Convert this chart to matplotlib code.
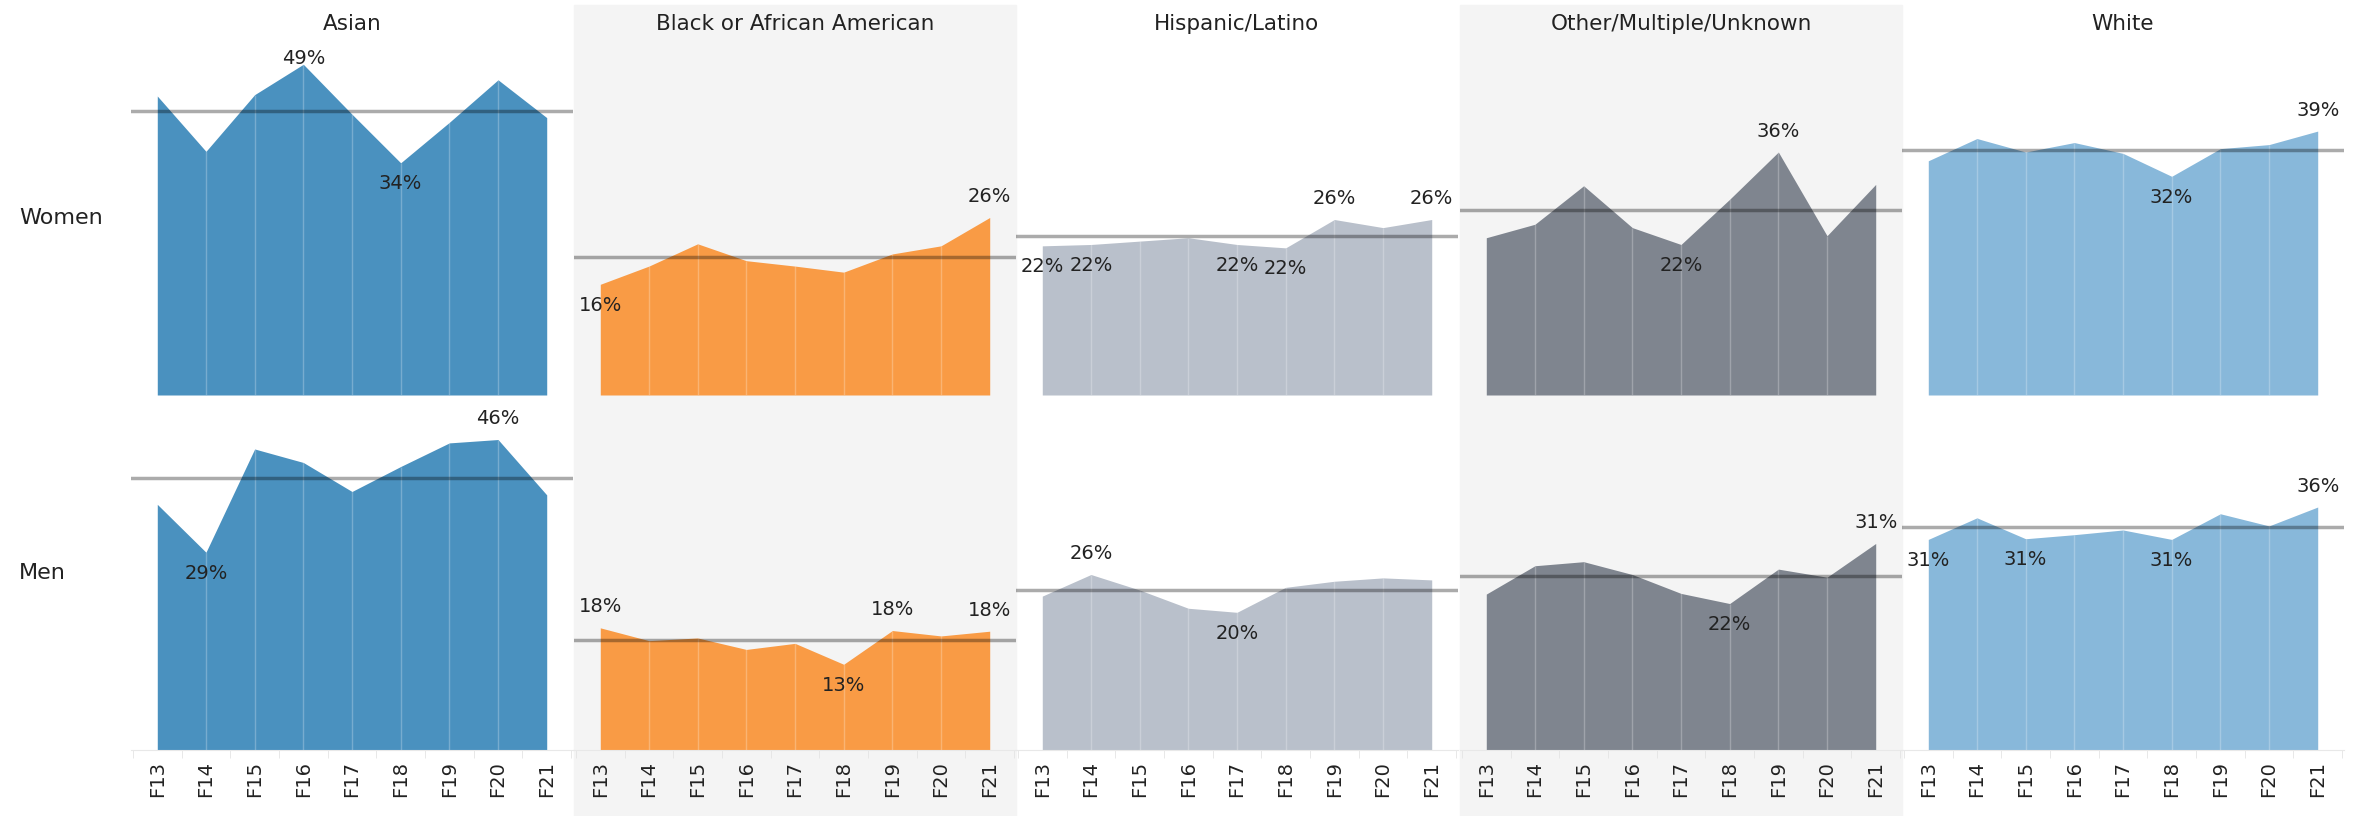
import matplotlib
matplotlib.use("Agg")
import matplotlib.pyplot as plt
from matplotlib.patches import Rectangle
import numpy as np

W, H = 2353, 816

years = ["F13", "F14", "F15", "F16", "F17", "F18", "F19", "F20", "F21"]
groups = ["Asian", "Black or African American", "Hispanic/Latino",
          "Other/Multiple/Unknown", "White"]
genders = ["Women", "Men"]

# share of each group, percent
asian_women = [44.3, 36.1, 44.5, 49.0, 41.6, 34.4, 40.4, 46.7, 41.1]
black_women = [16.4, 19.1, 22.4, 19.9, 19.1, 18.2, 20.9, 22.1, 26.3]
hispanic_women = [22.1, 22.3, 22.8, 23.3, 22.3, 21.8, 26.0, 24.8, 26.0]
other_women = [23.3, 25.3, 31.0, 24.8, 22.3, 29.0, 36.0, 23.6, 31.2]
white_women = [34.7, 38.0, 36.0, 37.4, 35.8, 32.4, 36.5, 37.1, 39.1]

asian_men = [36.4, 29.3, 44.6, 42.6, 38.3, 42.0, 45.5, 46.0, 37.8]
black_men = [18.1, 16.2, 16.6, 14.9, 15.8, 12.7, 17.7, 16.9, 17.6]
hispanic_men = [22.8, 26.0, 23.7, 21.0, 20.4, 24.1, 25.0, 25.5, 25.2]
other_men = [23.1, 27.3, 27.9, 26.0, 23.2, 21.7, 26.8, 25.6, 30.6]
white_men = [31.2, 34.4, 31.3, 31.9, 32.6, 31.2, 35.0, 33.2, 36.0]

# which points get a label: (index, above/below)
labels_women = [
    [(3, 1), (5, -1)],
    [(0, -1), (8, 1)],
    [(0, -1), (1, -1), (4, -1), (5, -1), (6, 1), (8, 1)],
    [(4, -1), (6, 1)],
    [(5, -1), (8, 1)],
]
labels_men = [
    [(1, -1), (7, 1)],
    [(0, 1), (5, -1), (6, 1), (8, 1)],
    [(1, 1), (4, -1)],
    [(5, -1), (8, 1)],
    [(0, -1), (2, -1), (5, -1), (8, 1)],
]

colors = ["#4a91bf", "#f99b45", "#b9c0cb", "#7f858f", "#88b8da"]

data = {
    "Women": [asian_women, black_women, hispanic_women, other_women, white_women],
    "Men": [asian_men, black_men, hispanic_men, other_men, white_men],
}
label_spec = {"Women": labels_women, "Men": labels_men}

fig = plt.figure(figsize=(W / 100, H / 100), dpi=100)
fig.patch.set_facecolor("white")

col_left = [131, 574, 1016, 1460, 1902]
col_w = 442
row_top = {"Women": 42, "Men": 397}
row_h = 353
ymax = 52.3
px_per_unit = row_h / ymax

# banded columns, behind everything
for c in [1, 3]:
    fig.patches.append(Rectangle((col_left[c] / W, 0), col_w / W, 1 - 5 / H,
                                 transform=fig.transFigure, color="#f4f4f4",
                                 zorder=-10))

for c, g in enumerate(groups):
    fig.text((col_left[c] + col_w / 2) / W, 1 - 24 / H, g, ha="center",
             va="center", fontsize=15.5, color="#222222")

fig.text(19 / W, 1 - 218 / H, "Women", ha="left", va="center", fontsize=16,
         color="#222222")
fig.text(19 / W, 1 - 573 / H, "Men", ha="left", va="center", fontsize=16,
         color="#222222")

x = np.arange(len(years))

for gender in genders:
    for c in range(len(groups)):
        vals = np.array(data[gender][c])
        top = row_top[gender]
        ax = fig.add_axes([col_left[c] / W, 1 - (top + row_h) / H,
                           col_w / W, row_h / H])
        ax.set_facecolor("none")
        ax.fill_between(x, 0, vals, color=colors[c], lw=0, zorder=2)
        ax.vlines(x[1:-1], 0, vals[1:-1], color="white", alpha=0.25, lw=1,
                  zorder=3)
        ax.axhline(np.mean(vals), color="black", alpha=0.33, lw=2.5, zorder=4)
        for i, d in label_spec[gender][c]:
            off = 21 * d
            if d > 0:
                # keep the label inside the pane, like Tableau does
                room = (ymax - vals[i]) * px_per_unit - 17
                off = min(off, room)
            ax.annotate(f"{vals[i]:.0f}%", (x[i], vals[i]),
                        xytext=(0, off), textcoords="offset pixels",
                        ha="center", va="center", fontsize=14,
                        color="#222222", zorder=5)
        ax.set_xlim(-0.54, 8.54)
        ax.set_ylim(0, ymax)
        ax.set_yticks([])
        for s in ax.spines.values():
            s.set_visible(False)
        if gender == "Men":
            ax.spines["bottom"].set_visible(True)
            ax.spines["bottom"].set_color("#e8e8e8")
            ax.set_xticks(x)
            ax.set_xticklabels(years, rotation=90, fontsize=14,
                               color="#222222")
            ax.set_xticks(np.arange(-0.5, 9, 1), minor=True)
            ax.tick_params(axis="x", which="major", length=0, pad=8)
            ax.tick_params(axis="x", which="minor", length=6,
                           color="#e4e4e4")
        else:
            ax.set_xticks([])

plt.savefig("out.png", dpi=100)
